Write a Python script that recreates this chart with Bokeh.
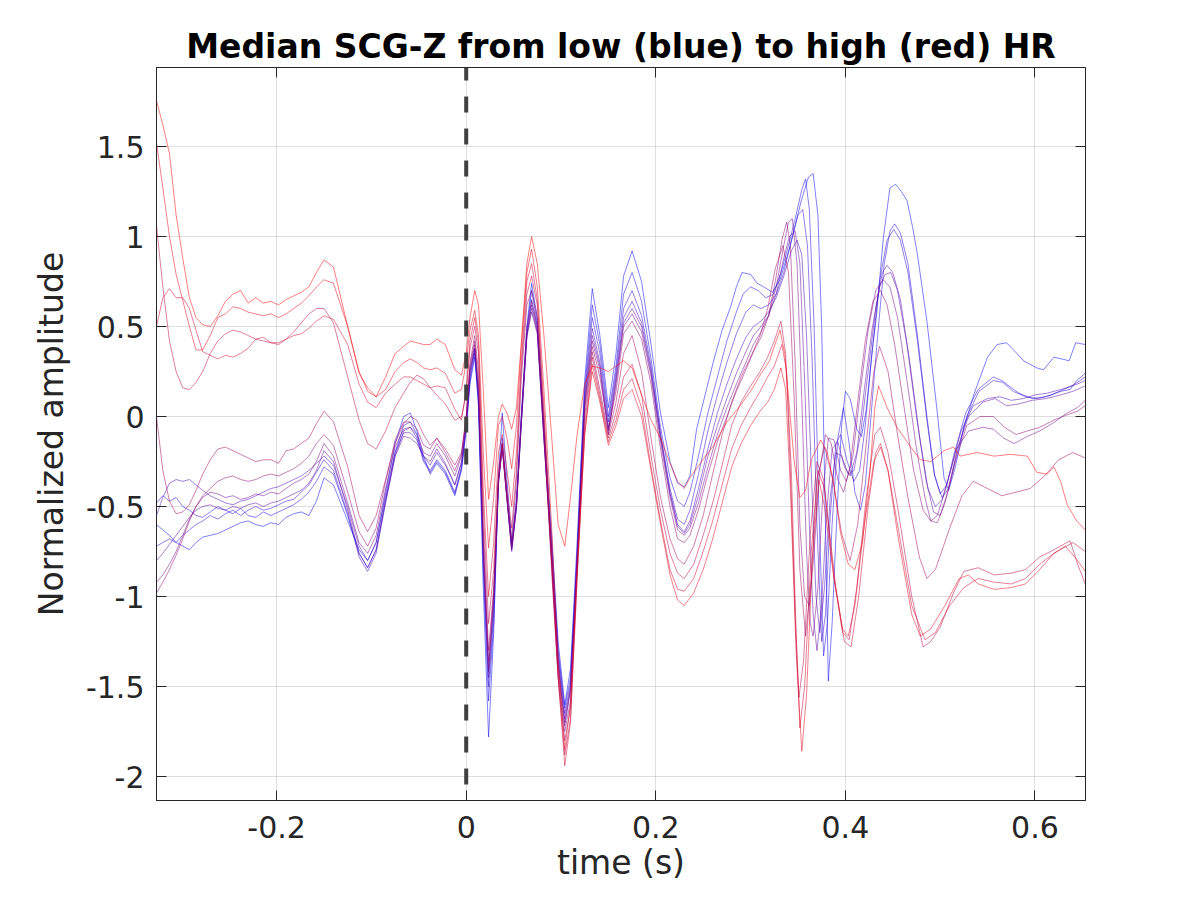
from bokeh.plotting import figure
from bokeh.models import Range1d, LinearAxis, FixedTicker, Span
from bokeh.embed import file_html
from bokeh.resources import INLINE

# ---------------- data ----------------
x_ticks = [-0.2, 0, 0.2, 0.4, 0.6]
x_tick_labels = ["-0.2", "0", "0.2", "0.4", "0.6"]
y_ticks = [-2, -1.5, -1, -0.5, 0, 0.5, 1, 1.5]
y_tick_labels = ["-2", "-1.5", "-1", "-0.5", "0", "0.5", "1", "1.5"]

# shared time grid, pre-stimulus part
t_left = [-0.3267, -0.320, -0.313, -0.306, -0.299, -0.292, -0.285, -0.278, -0.270, -0.262,
          -0.254, -0.246, -0.238, -0.230, -0.222, -0.214, -0.206, -0.198, -0.190, -0.182,
          -0.174, -0.166, -0.158]
# shared time grid, main complex
t_mid = [-0.150, -0.140, -0.125, -0.113, -0.104, -0.095, -0.085, -0.075, -0.066, -0.059,
         -0.052, -0.045, -0.038, -0.031, -0.022, -0.012, -0.005, 0.000, 0.004, 0.009,
         0.013, 0.018, 0.0236, 0.029, 0.034, 0.038, 0.043, 0.048, 0.053, 0.058,
         0.064, 0.069, 0.075, 0.082, 0.090, 0.097, 0.104, 0.110, 0.117, 0.125,
         0.133, 0.141, 0.150, 0.158, 0.166, 0.175, 0.185, 0.195, 0.205, 0.215,
         0.223, 0.230]

# ---- curve 0 (lowest HR, blue) ----
c0_left = [-0.60, -0.63, -0.66, -0.70, -0.72, -0.74, -0.70, -0.67, -0.66, -0.65, -0.63, -0.61,
           -0.59, -0.58, -0.60, -0.61, -0.59, -0.60, -0.56, -0.54, -0.53, -0.55, -0.47]
c0_mid = [-0.34, -0.38, -0.58, -0.74, -0.80, -0.70, -0.42, -0.15, 0.00, 0.02,
          -0.08, -0.22, -0.32, -0.26, -0.32, -0.44, -0.30, -0.08, 0.18, 0.33,
          0.05, -0.95, -1.78, -1.20, -0.35, 0.02, -0.35, -0.70, -0.45, 0.00,
          0.50, 0.74, 0.55, -0.05, -0.65, -1.25, -1.60, -1.40, -0.70, 0.20,
          0.71, 0.45, 0.05, 0.35, 0.78, 0.92, 0.75, 0.40, 0.02, -0.25,
          -0.37, -0.39]
c0_right = [(0.236, -0.33), (0.243, -0.07), (0.252, 0.12), (0.261, 0.31), (0.270, 0.48), (0.279, 0.61),
            (0.285, 0.72), (0.291, 0.80), (0.300, 0.79), (0.307, 0.74), (0.314, 0.72), (0.323, 0.69),
            (0.331, 0.76), (0.342, 0.95), (0.353, 1.19), (0.361, 1.33), (0.366, 1.35), (0.371, 1.12),
            (0.375, 0.50), (0.379, -0.60), (0.382, -1.47), (0.386, -1.15), (0.391, -0.55), (0.396, -0.05),
            (0.400, 0.14), (0.405, 0.10), (0.412, -0.07), (0.417, -0.11), (0.422, 0.04), (0.428, 0.35),
            (0.433, 0.57), (0.440, 0.99), (0.447, 1.27), (0.453, 1.29), (0.459, 1.25), (0.465, 1.20),
            (0.471, 1.05), (0.476, 0.90), (0.486, 0.53), (0.497, 0.02), (0.504, -0.34), (0.509, -0.41),
            (0.516, -0.28), (0.525, -0.06), (0.536, 0.13), (0.550, 0.33), (0.560, 0.40), (0.570, 0.41),
            (0.581, 0.35), (0.588, 0.31), (0.602, 0.27), (0.609, 0.26), (0.620, 0.33), (0.628, 0.32),
            (0.636, 0.31), (0.643, 0.41), (0.653, 0.40)]

# ---- curve 1 ----
c1_left = [-0.48, -0.44, -0.47, -0.45, -0.50, -0.52, -0.55, -0.56, -0.53, -0.50, -0.52, -0.54,
           -0.51, -0.55, -0.56, -0.53, -0.55, -0.53, -0.51, -0.49, -0.46, -0.42, -0.36]
c1_mid = [-0.28, -0.32, -0.55, -0.76, -0.84, -0.74, -0.46, -0.20, -0.05, -0.03,
          -0.10, -0.24, -0.30, -0.24, -0.30, -0.42, -0.28, -0.06, 0.20, 0.35,
          0.08, -0.85, -1.58, -1.15, -0.35, -0.12, -0.42, -0.72, -0.48, -0.02,
          0.48, 0.70, 0.52, -0.08, -0.70, -1.30, -1.62, -1.45, -0.75, 0.15,
          0.62, 0.40, 0.00, 0.28, 0.68, 0.80, 0.64, 0.32, -0.06, -0.34,
          -0.47, -0.50]
c1_right = [(0.236, -0.42), (0.245, -0.22), (0.255, 0.02), (0.265, 0.22), (0.275, 0.42), (0.285, 0.58),
            (0.292, 0.68), (0.300, 0.72), (0.308, 0.70), (0.316, 0.66), (0.324, 0.68), (0.332, 0.80),
            (0.340, 0.95), (0.348, 1.12), (0.354, 1.26), (0.358, 1.32), (0.362, 1.15), (0.367, 0.50),
            (0.372, -0.50), (0.377, -1.33), (0.381, -1.15), (0.386, -0.60), (0.392, -0.12), (0.398, 0.05),
            (0.404, -0.15), (0.410, -0.42), (0.416, -0.52), (0.421, -0.38), (0.427, 0.00), (0.434, 0.45),
            (0.441, 0.85), (0.447, 1.03), (0.452, 1.07), (0.458, 1.02), (0.466, 0.85), (0.476, 0.45),
            (0.486, 0.00), (0.494, -0.32), (0.500, -0.43), (0.507, -0.38), (0.515, -0.20), (0.527, 0.02),
            (0.540, 0.15), (0.556, 0.22), (0.565, 0.20), (0.575, 0.16), (0.583, 0.13), (0.597, 0.10),
            (0.612, 0.11), (0.627, 0.14), (0.637, 0.15), (0.644, 0.20), (0.653, 0.24)]

# ---- curve 2 ----
c2_left = [-0.72, -0.70, -0.68, -0.70, -0.66, -0.63, -0.60, -0.58, -0.55, -0.57, -0.54, -0.52,
           -0.55, -0.52, -0.50, -0.52, -0.51, -0.49, -0.47, -0.46, -0.42, -0.38, -0.31]
c2_mid = [-0.24, -0.30, -0.54, -0.78, -0.86, -0.76, -0.48, -0.22, -0.08, -0.06,
          -0.12, -0.25, -0.31, -0.25, -0.31, -0.43, -0.29, -0.05, 0.22, 0.37,
          0.10, -0.80, -1.50, -1.10, -0.38, -0.15, -0.44, -0.73, -0.50, -0.04,
          0.46, 0.65, 0.50, -0.10, -0.72, -1.32, -1.65, -1.48, -0.78, 0.12,
          0.55, 0.35, -0.03, 0.25, 0.60, 0.70, 0.56, 0.28, -0.10, -0.40,
          -0.57, -0.60]
c2_right = [(0.236, -0.52), (0.245, -0.32), (0.255, -0.08), (0.265, 0.12), (0.275, 0.30), (0.285, 0.46),
            (0.295, 0.58), (0.303, 0.62), (0.311, 0.60), (0.319, 0.62), (0.327, 0.68), (0.335, 0.80),
            (0.343, 0.98), (0.350, 1.12), (0.355, 1.15), (0.360, 0.95), (0.365, 0.30), (0.370, -0.60),
            (0.375, -1.25), (0.379, -1.10), (0.384, -0.55), (0.390, -0.15), (0.395, -0.10), (0.402, -0.25),
            (0.409, -0.36), (0.415, -0.30), (0.421, -0.05), (0.428, 0.35), (0.436, 0.75), (0.444, 0.98),
            (0.451, 1.04), (0.458, 0.98), (0.466, 0.80), (0.476, 0.42), (0.486, -0.02), (0.494, -0.33),
            (0.502, -0.45), (0.509, -0.40), (0.517, -0.22), (0.528, 0.00), (0.541, 0.14), (0.556, 0.20),
            (0.566, 0.19), (0.577, 0.14), (0.590, 0.11), (0.603, 0.10), (0.617, 0.12), (0.630, 0.15),
            (0.642, 0.18), (0.653, 0.22)]

# ---- curve 3 ----
c3_left = [-0.55, -0.45, -0.37, -0.35, -0.36, -0.35, -0.38, -0.41, -0.44, -0.46, -0.48, -0.49,
           -0.47, -0.46, -0.44, -0.42, -0.40, -0.39, -0.37, -0.35, -0.33, -0.30, -0.26]
c3_mid = [-0.22, -0.27, -0.50, -0.72, -0.80, -0.70, -0.44, -0.20, -0.09, -0.09,
          -0.13, -0.22, -0.27, -0.20, -0.27, -0.38, -0.25, -0.03, 0.25, 0.38,
          0.12, -0.75, -1.45, -1.05, -0.38, -0.16, -0.45, -0.74, -0.50, -0.05,
          0.45, 0.62, 0.48, -0.12, -0.75, -1.35, -1.68, -1.50, -0.80, 0.10,
          0.49, 0.30, -0.06, 0.22, 0.55, 0.64, 0.52, 0.26, -0.10, -0.42,
          -0.60, -0.64]
c3_right = [(0.236, -0.58), (0.245, -0.40), (0.255, -0.18), (0.265, 0.02), (0.275, 0.18), (0.285, 0.32),
            (0.295, 0.44), (0.303, 0.50), (0.311, 0.53), (0.319, 0.58), (0.327, 0.66), (0.335, 0.78),
            (0.343, 0.92), (0.349, 0.98), (0.354, 0.90), (0.359, 0.45), (0.364, -0.30), (0.369, -1.00),
            (0.373, -1.20), (0.378, -0.95), (0.384, -0.45), (0.390, -0.20), (0.396, -0.22), (0.403, -0.32),
            (0.409, -0.30), (0.416, -0.10), (0.424, 0.25), (0.432, 0.60), (0.439, 0.80), (0.444, 0.84),
            (0.450, 0.80), (0.458, 0.65), (0.468, 0.30), (0.478, -0.10), (0.487, -0.40), (0.495, -0.50),
            (0.502, -0.46), (0.511, -0.30), (0.522, -0.08), (0.535, 0.06), (0.550, 0.10), (0.563, 0.11),
            (0.575, 0.09), (0.588, 0.10), (0.600, 0.12), (0.613, 0.13), (0.627, 0.15), (0.640, 0.17),
            (0.653, 0.20)]

# ---- curve 4 ----
c4_left = [-0.80, -0.76, -0.71, -0.66, -0.61, -0.56, -0.52, -0.50, -0.49, -0.51, -0.52, -0.50,
           -0.51, -0.49, -0.48, -0.50, -0.48, -0.47, -0.45, -0.43, -0.41, -0.37, -0.30]
c4_mid = [-0.19, -0.25, -0.52, -0.76, -0.84, -0.74, -0.47, -0.22, -0.11, -0.12,
          -0.15, -0.22, -0.25, -0.18, -0.26, -0.38, -0.26, -0.04, 0.24, 0.38,
          0.12, -0.75, -1.42, -1.02, -0.36, -0.17, -0.46, -0.75, -0.51, -0.06,
          0.44, 0.58, 0.46, -0.13, -0.77, -1.37, -1.72, -1.52, -0.80, 0.08,
          0.45, 0.28, -0.08, 0.20, 0.52, 0.60, 0.50, 0.24, -0.12, -0.43,
          -0.61, -0.65]
c4_right = [(0.236, -0.60), (0.245, -0.44), (0.255, -0.22), (0.265, -0.05), (0.275, 0.10), (0.285, 0.24),
            (0.295, 0.36), (0.303, 0.45), (0.311, 0.50), (0.319, 0.56), (0.327, 0.68), (0.335, 0.88),
            (0.341, 1.00), (0.347, 1.03), (0.352, 0.85), (0.357, 0.20), (0.362, -0.60), (0.366, -1.10),
            (0.370, -1.30), (0.375, -1.05), (0.380, -0.55), (0.386, -0.18), (0.392, -0.14), (0.399, -0.28),
            (0.405, -0.33), (0.412, -0.20), (0.420, 0.15), (0.428, 0.48), (0.436, 0.72), (0.442, 0.79),
            (0.448, 0.80), (0.455, 0.70), (0.465, 0.40), (0.475, 0.00), (0.485, -0.35), (0.493, -0.53),
            (0.500, -0.55), (0.508, -0.42), (0.518, -0.18), (0.530, 0.00), (0.545, 0.08), (0.558, 0.10),
            (0.570, 0.06), (0.583, 0.07), (0.597, 0.09), (0.612, 0.10), (0.627, 0.12), (0.640, 0.14),
            (0.653, 0.17)]

# ---- curve 5 ----
c5_left = [-0.92, -0.88, -0.82, -0.75, -0.66, -0.57, -0.50, -0.45, -0.42, -0.43, -0.45, -0.44,
           -0.46, -0.45, -0.43, -0.44, -0.42, -0.43, -0.40, -0.37, -0.35, -0.32, -0.25]
c5_mid = [-0.15, -0.22, -0.48, -0.70, -0.76, -0.66, -0.40, -0.17, -0.07, -0.06,
          -0.10, -0.20, -0.22, -0.15, -0.22, -0.33, -0.22, -0.02, 0.26, 0.40,
          0.14, -0.72, -1.40, -1.00, -0.36, -0.18, -0.46, -0.74, -0.50, -0.04,
          0.45, 0.60, 0.47, -0.12, -0.78, -1.38, -1.70, -1.52, -0.80, 0.06,
          0.42, 0.26, -0.10, 0.18, 0.50, 0.57, 0.47, 0.22, -0.14, -0.45,
          -0.63, -0.66]
c5_right = [(0.236, -0.62), (0.245, -0.48), (0.255, -0.28), (0.265, -0.10), (0.275, 0.05), (0.285, 0.18),
            (0.295, 0.30), (0.303, 0.40), (0.311, 0.47), (0.319, 0.56), (0.327, 0.72), (0.335, 0.95),
            (0.340, 1.08), (0.344, 1.10), (0.349, 0.85), (0.354, 0.10), (0.359, -0.75), (0.363, -1.15),
            (0.366, -1.22), (0.371, -0.95), (0.376, -0.45), (0.382, -0.12), (0.388, -0.13), (0.395, -0.30),
            (0.401, -0.36), (0.408, -0.22), (0.416, 0.15), (0.424, 0.48), (0.432, 0.70), (0.440, 0.76),
            (0.447, 0.72), (0.455, 0.55), (0.465, 0.20), (0.475, -0.18), (0.484, -0.45), (0.490, -0.58),
            (0.497, -0.55), (0.506, -0.40), (0.517, -0.18), (0.530, -0.08), (0.545, -0.06), (0.556, -0.07),
            (0.567, -0.12), (0.578, -0.15), (0.592, -0.11), (0.605, -0.08), (0.618, -0.04), (0.634, 0.02),
            (0.645, 0.05), (0.653, 0.09)]

# ---- curve 6 ----
c6_left = [-0.98, -0.92, -0.85, -0.77, -0.68, -0.58, -0.50, -0.44, -0.40, -0.36, -0.34, -0.33,
           -0.35, -0.36, -0.35, -0.33, -0.32, -0.33, -0.31, -0.29, -0.26, -0.22, -0.15]
c6_mid = [-0.10, -0.16, -0.42, -0.64, -0.72, -0.62, -0.36, -0.13, -0.03, -0.03,
          -0.07, -0.16, -0.18, -0.12, -0.20, -0.30, -0.21, -0.01, 0.28, 0.42,
          0.18, -0.68, -1.36, -0.98, -0.35, -0.17, -0.46, -0.72, -0.48, -0.02,
          0.50, 0.64, 0.50, -0.10, -0.80, -1.42, -1.75, -1.58, -0.82, 0.04,
          0.39, 0.22, -0.07, 0.14, 0.46, 0.53, 0.43, 0.18, -0.18, -0.50,
          -0.68, -0.70]
c6_right = [(0.236, -0.66), (0.245, -0.52), (0.255, -0.32), (0.265, -0.14), (0.275, 0.00), (0.285, 0.14),
            (0.295, 0.26), (0.303, 0.36), (0.311, 0.44), (0.319, 0.56), (0.327, 0.78), (0.333, 0.98),
            (0.338, 1.08), (0.342, 0.95), (0.347, 0.30), (0.352, -0.60), (0.357, -1.00), (0.362, -1.05),
            (0.367, -0.75), (0.373, -0.30), (0.379, -0.10), (0.385, -0.15), (0.392, -0.35), (0.398, -0.42),
            (0.405, -0.28), (0.413, 0.08), (0.421, 0.42), (0.429, 0.64), (0.437, 0.70), (0.444, 0.62),
            (0.452, 0.40), (0.462, 0.05), (0.472, -0.30), (0.482, -0.52), (0.490, -0.58), (0.497, -0.59),
            (0.505, -0.48), (0.516, -0.25), (0.528, -0.05), (0.542, 0.00), (0.556, 0.00), (0.568, -0.06),
            (0.580, -0.10), (0.592, -0.08), (0.605, -0.06), (0.620, -0.02), (0.634, 0.01), (0.645, 0.03),
            (0.653, 0.06)]

# ---- curve 7 ----
c7_left = [0.00, -0.30, -0.47, -0.54, -0.53, -0.49, -0.41, -0.32, -0.24, -0.18, -0.17, -0.19,
           -0.21, -0.23, -0.25, -0.24, -0.24, -0.26, -0.19, -0.18, -0.15, -0.12, -0.04]
c7_mid = [0.03, -0.03, -0.28, -0.55, -0.64, -0.55, -0.35, -0.15, -0.04, 0.00,
          -0.02, -0.10, -0.16, -0.12, -0.18, -0.27, -0.20, 0.00, 0.30, 0.45,
          0.25, -0.60, -1.30, -0.95, -0.35, -0.15, -0.45, -0.68, -0.35, 0.20,
          0.62, 0.70, 0.55, -0.05, -0.85, -1.45, -1.80, -1.62, -0.85, 0.00,
          0.36, 0.15, -0.10, 0.08, 0.35, 0.45, 0.25, -0.12, -0.45, -0.68,
          -0.79, -0.82]
c7_right = [(0.240, -0.72), (0.250, -0.55), (0.260, -0.32), (0.270, -0.10), (0.280, 0.08), (0.290, 0.22),
            (0.300, 0.33), (0.310, 0.45), (0.318, 0.60), (0.326, 0.82), (0.334, 0.95), (0.340, 0.80),
            (0.346, 0.10), (0.352, -0.85), (0.358, -1.22), (0.364, -0.90), (0.370, -0.35), (0.378, -0.17),
            (0.387, -0.35), (0.396, -0.65), (0.405, -0.80), (0.413, -0.60), (0.422, -0.15), (0.430, 0.25),
            (0.436, 0.39), (0.445, 0.25), (0.455, -0.10), (0.466, -0.45), (0.478, -0.78), (0.486, -0.90),
            (0.495, -0.85), (0.510, -0.62), (0.523, -0.44), (0.535, -0.36), (0.550, -0.40), (0.565, -0.44),
            (0.580, -0.42), (0.595, -0.40), (0.610, -0.33), (0.625, -0.24), (0.640, -0.20), (0.653, -0.23)]

# ---- curve 8 ----
c8_left = [1.06, 0.72, 0.42, 0.25, 0.16, 0.15, 0.19, 0.25, 0.35, 0.42, 0.46, 0.48,
           0.47, 0.45, 0.43, 0.42, 0.41, 0.40, 0.43, 0.47, 0.52, 0.57, 0.60]
c8_mid = [0.60, 0.52, 0.22, -0.02, -0.15, -0.18, -0.08, 0.05, 0.13, 0.19,
          0.23, 0.21, 0.16, 0.12, 0.07, -0.02, 0.00, 0.12, 0.38, 0.50,
          0.35, -0.50, -1.15, -0.85, -0.30, -0.15, -0.40, -0.62, -0.30, 0.25,
          0.68, 0.78, 0.62, 0.00, -0.80, -1.45, -1.88, -1.68, -0.90, -0.05,
          0.33, 0.12, -0.12, 0.02, 0.22, 0.29, 0.12, -0.22, -0.52, -0.76,
          -0.87, -0.90]
c8_right = [(0.240, -0.82), (0.250, -0.66), (0.260, -0.48), (0.270, -0.27), (0.280, -0.05), (0.290, 0.08),
            (0.300, 0.17), (0.310, 0.25), (0.318, 0.33), (0.325, 0.42), (0.332, 0.53), (0.337, 0.35),
            (0.342, -0.30), (0.347, -1.10), (0.351, -1.56), (0.356, -1.35), (0.363, -0.65), (0.370, -0.25),
            (0.377, -0.35), (0.388, -0.90), (0.397, -1.20), (0.404, -1.24), (0.412, -0.95), (0.422, -0.45),
            (0.431, -0.10), (0.437, -0.06), (0.445, -0.20), (0.455, -0.50), (0.470, -1.00), (0.482, -1.28),
            (0.490, -1.25), (0.500, -1.17), (0.514, -0.98), (0.525, -0.86), (0.540, -0.84), (0.557, -0.88),
            (0.575, -0.87), (0.590, -0.85), (0.605, -0.78), (0.620, -0.74), (0.637, -0.69), (0.645, -0.82),
            (0.653, -0.93)]

# ---- curve 9 ----
c9_left = [0.50, 0.66, 0.71, 0.66, 0.66, 0.60, 0.48, 0.36, 0.34, 0.32, 0.34, 0.33,
           0.35, 0.38, 0.43, 0.44, 0.41, 0.41, 0.43, 0.45, 0.46, 0.49, 0.53]
c9_mid = [0.56, 0.54, 0.40, 0.18, 0.08, 0.05, 0.13, 0.18, 0.22, 0.22,
          0.20, 0.18, 0.16, 0.17, 0.16, 0.04, -0.02, 0.15, 0.42, 0.55,
          0.40, -0.40, -1.00, -0.70, -0.20, -0.10, -0.30, -0.50, -0.20, 0.30,
          0.75, 0.85, 0.65, 0.05, -0.75, -1.45, -1.94, -1.70, -0.90, -0.10,
          0.29, 0.10, -0.14, -0.02, 0.15, 0.21, 0.05, -0.28, -0.58, -0.85,
          -0.96, -0.97]
c9_right = [(0.240, -0.90), (0.250, -0.75), (0.260, -0.58), (0.270, -0.38), (0.280, -0.18), (0.290, -0.05),
            (0.300, 0.05), (0.310, 0.14), (0.318, 0.22), (0.325, 0.28), (0.333, 0.40), (0.338, 0.25),
            (0.343, -0.30), (0.348, -1.20), (0.352, -1.73), (0.357, -1.50), (0.364, -0.75), (0.371, -0.30),
            (0.378, -0.40), (0.390, -0.95), (0.399, -1.25), (0.406, -1.28), (0.414, -1.00), (0.424, -0.50),
            (0.432, -0.20), (0.437, -0.15), (0.445, -0.30), (0.455, -0.60), (0.470, -1.05), (0.484, -1.24),
            (0.495, -1.20), (0.510, -1.05), (0.525, -0.95), (0.540, -0.90), (0.557, -0.92), (0.575, -0.93),
            (0.590, -0.90), (0.605, -0.82), (0.620, -0.76), (0.640, -0.70), (0.653, -0.75)]

# ---- curve 10 ----
c10_left = [1.52, 1.27, 1.00, 0.79, 0.645, 0.50, 0.37, 0.37, 0.45, 0.55, 0.57, 0.61,
            0.60, 0.58, 0.57, 0.56, 0.57, 0.55, 0.57, 0.60, 0.63, 0.67, 0.72]
c10_mid = [0.76, 0.74, 0.50, 0.25, 0.14, 0.11, 0.15, 0.25, 0.30, 0.32,
           0.30, 0.27, 0.26, 0.27, 0.24, 0.13, 0.15, 0.30, 0.48, 0.59,
           0.45, -0.20, -0.73, -0.45, -0.05, 0.00, -0.12, -0.29, -0.05, 0.38,
           0.80, 0.93, 0.72, 0.15, -0.60, -1.35, -1.85, -1.60, -0.85, -0.10,
           0.25, 0.08, -0.16, -0.05, 0.10, 0.15, 0.00, -0.30, -0.60, -0.88,
           -1.02, -1.05]
c10_right = [(0.240, -0.98), (0.250, -0.85), (0.260, -0.68), (0.270, -0.48), (0.280, -0.28), (0.290, -0.15),
             (0.300, -0.05), (0.310, 0.03), (0.318, 0.08), (0.325, 0.15), (0.332, 0.27), (0.337, 0.15),
             (0.342, -0.40), (0.348, -1.30), (0.354, -1.86), (0.359, -1.55), (0.365, -0.80), (0.372, -0.35),
             (0.378, -0.50), (0.388, -0.90), (0.397, -1.18), (0.403, -1.22), (0.410, -1.05), (0.420, -0.60),
             (0.430, -0.25), (0.437, -0.17), (0.445, -0.30), (0.455, -0.65), (0.470, -1.10), (0.479, -1.22),
             (0.490, -1.18), (0.505, -1.05), (0.520, -0.90), (0.530, -0.88), (0.540, -0.93), (0.557, -0.96),
             (0.575, -0.95), (0.590, -0.93), (0.605, -0.85), (0.620, -0.76), (0.632, -0.72), (0.645, -0.80),
             (0.653, -0.86)]

# ---- curve 11 (highest HR, red) ----
c11_left = [1.755, 1.62, 1.46, 1.12, 0.88, 0.66, 0.55, 0.51, 0.50, 0.56, 0.64, 0.68,
            0.70, 0.63, 0.66, 0.63, 0.64, 0.62, 0.65, 0.67, 0.69, 0.72, 0.80]
c11_mid = [0.87, 0.83, 0.50, 0.24, 0.16, 0.11, 0.22, 0.35, 0.39, 0.42,
           0.41, 0.40, 0.40, 0.43, 0.40, 0.26, 0.23, 0.35, 0.55, 0.70,
           0.62, 0.15, -0.46, -0.25, 0.00, 0.07, 0.02, -0.07, 0.05, 0.40,
           0.85, 1.00, 0.85, 0.45, -0.10, -0.60, -0.72, -0.45, -0.10, 0.18,
           0.28, 0.27, 0.25, 0.28, 0.31, 0.27, 0.12, -0.02, -0.12, -0.26,
           -0.36, -0.40]
c11_right = [(0.236, -0.34), (0.247, -0.26), (0.261, -0.16), (0.275, -0.03), (0.289, 0.06), (0.300, 0.14),
             (0.310, 0.23), (0.320, 0.31), (0.327, 0.42), (0.331, 0.48), (0.336, 0.35), (0.341, 0.05),
             (0.346, -0.25), (0.352, -0.45), (0.358, -0.41), (0.364, -0.24), (0.374, -0.13), (0.381, -0.20),
             (0.388, -0.39), (0.395, -0.65), (0.403, -0.82), (0.410, -0.85), (0.418, -0.70), (0.426, -0.30),
             (0.431, 0.05), (0.435, 0.17), (0.444, 0.05), (0.4545, -0.06), (0.469, -0.17), (0.479, -0.24),
             (0.490, -0.25), (0.504, -0.19), (0.514, -0.17), (0.521, -0.22), (0.539, -0.20), (0.557, -0.22),
             (0.574, -0.21), (0.592, -0.22), (0.602, -0.31), (0.613, -0.32), (0.620, -0.28), (0.627, -0.36),
             (0.634, -0.49), (0.644, -0.58), (0.653, -0.63)]

curve_left = [c0_left, c1_left, c2_left, c3_left, c4_left, c5_left,
              c6_left, c7_left, c8_left, c9_left, c10_left, c11_left]
curve_mid = [c0_mid, c1_mid, c2_mid, c3_mid, c4_mid, c5_mid,
             c6_mid, c7_mid, c8_mid, c9_mid, c10_mid, c11_mid]
curve_right = [c0_right, c1_right, c2_right, c3_right, c4_right, c5_right,
               c6_right, c7_right, c8_right, c9_right, c10_right, c11_right]

# ---------------- figure ----------------
FONT = "DejaVu Sans"
INK = "#262626"

p = figure(width=1184, height=884, output_backend="svg", toolbar_location=None,
           x_range=Range1d(-0.3267, 0.6533), y_range=Range1d(-2.133, 1.939),
           min_border_left=156, min_border_right=99, min_border_top=67, min_border_bottom=84,
           background_fill_color="white", border_fill_color="white")

p.title.text = "Median SCG-Z from low (blue) to high (red) HR"
p.title.text_font = FONT
p.title.text_font_size = "33px"
p.title.text_font_style = "bold"
p.title.text_color = "black"
p.title.align = "center"
p.title.standoff = 4

p.outline_line_color = INK
p.outline_line_width = 1

xt = FixedTicker(ticks=x_ticks)
yt = FixedTicker(ticks=y_ticks)


def style_axis(ax, ticker, labels, show_labels, standoff):
    ax.ticker = ticker
    ax.major_tick_in = 10
    ax.major_tick_out = 0
    ax.minor_tick_in = 0
    ax.minor_tick_out = 0
    ax.axis_line_color = INK
    ax.major_tick_line_color = INK
    ax.major_label_text_font = FONT
    ax.axis_label_text_font = FONT
    ax.axis_label_text_color = INK
    ax.axis_label_text_font_style = "normal"
    ax.axis_label_text_font_size = "33px"
    ax.major_label_standoff = standoff
    if show_labels:
        ax.major_label_overrides = {t: s for t, s in zip(ticker.ticks, labels)}
        ax.major_label_text_font_size = "30px"
        ax.major_label_text_color = INK
    else:
        ax.major_label_text_font_size = "1px"
        ax.major_label_text_color = None


xa = p.xaxis[0]
ya = p.yaxis[0]
style_axis(xa, xt, x_tick_labels, True, 15)
style_axis(ya, yt, y_tick_labels, True, 12)
xa.axis_label = "time (s)"
xa.axis_label_standoff = 2
ya.axis_label = "Normalized amplitude"
ya.axis_label_standoff = 12

xa_top = LinearAxis()
style_axis(xa_top, FixedTicker(ticks=x_ticks), x_tick_labels, False, 0)
p.add_layout(xa_top, "above")
ya_right = LinearAxis()
style_axis(ya_right, FixedTicker(ticks=y_ticks), y_tick_labels, False, 0)
p.add_layout(ya_right, "right")

for g in (p.xgrid[0], p.ygrid[0]):
    g.grid_line_color = INK
    g.grid_line_alpha = 0.15
    g.grid_line_width = 1
p.xgrid[0].ticker = xt
p.ygrid[0].ticker = yt

n = len(curve_left)
for k in range(n):
    frac = k / (n - 1)
    color = (int(round(255 * frac)), 0, int(round(255 * (1 - frac))))
    ts = list(t_left) + list(t_mid) + [pt[0] for pt in curve_right[k]]
    vs = list(curve_left[k]) + list(curve_mid[k]) + [pt[1] for pt in curve_right[k]]
    p.line(ts, vs, line_color=color, line_alpha=0.5, line_width=1)

p.add_layout(Span(location=0, dimension="height", line_color="#404040",
                  line_width=4, line_dash="16 16", line_dash_offset=3))

open("out.html", "w").write(file_html(p, INLINE))
